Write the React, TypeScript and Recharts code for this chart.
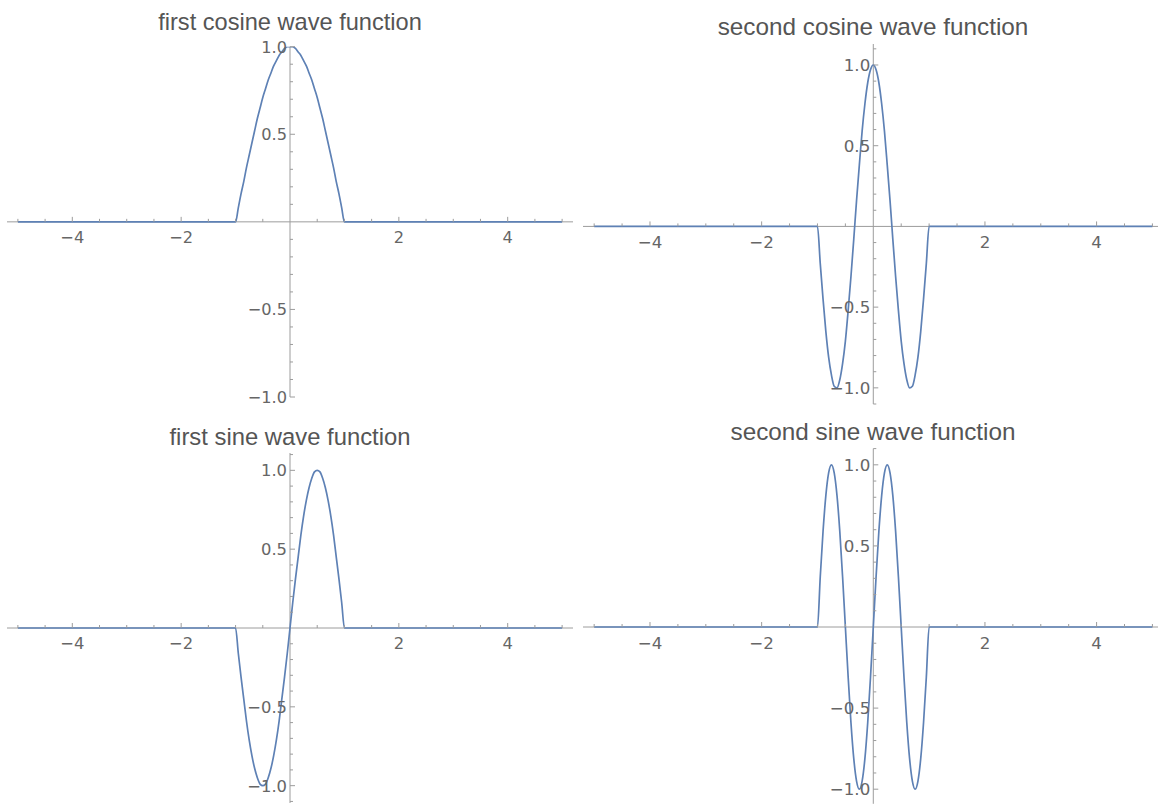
import React from 'react';
import { LineChart, Line, XAxis, YAxis, ReferenceLine, ReferenceDot } from 'recharts';

// sample positions (x) shared by the four plots
const xValues = [
  -5, -1, -0.95, -0.9, -0.85, -0.8, -0.75, -0.7, -0.65, -0.6, -0.55, -0.5, -0.45, -0.4, -0.35, -0.3, -0.25, -0.2, -0.15, -0.1, -0.05,
  0, 0.05, 0.1, 0.15, 0.2, 0.25, 0.3, 0.35, 0.4, 0.45, 0.5, 0.55, 0.6, 0.65, 0.7, 0.75, 0.8, 0.85, 0.9, 0.95, 1, 5,
];

const firstCosine = [
  0, 0, 0.08, 0.16, 0.23, 0.31, 0.38, 0.45, 0.52, 0.59, 0.65, 0.71, 0.76, 0.81, 0.85, 0.89, 0.92, 0.95, 0.97, 0.99, 1.0,
  1, 1.0, 0.99, 0.97, 0.95, 0.92, 0.89, 0.85, 0.81, 0.76, 0.71, 0.65, 0.59, 0.52, 0.45, 0.38, 0.31, 0.23, 0.16, 0.08, 0, 0,
];

const secondCosine = [
  0, 0, -0.23, -0.45, -0.65, -0.81, -0.92, -0.99, -1.0, -0.95, -0.85, -0.71, -0.52, -0.31, -0.08, 0.16, 0.38, 0.59, 0.76, 0.89, 0.97,
  1, 0.97, 0.89, 0.76, 0.59, 0.38, 0.16, -0.08, -0.31, -0.52, -0.71, -0.85, -0.95, -1.0, -0.99, -0.92, -0.81, -0.65, -0.45, -0.23, 0, 0,
];

const firstSine = [
  0, 0, -0.16, -0.31, -0.45, -0.59, -0.71, -0.81, -0.89, -0.95, -0.99, -1, -0.99, -0.95, -0.89, -0.81, -0.71, -0.59, -0.45, -0.31, -0.16,
  0, 0.16, 0.31, 0.45, 0.59, 0.71, 0.81, 0.89, 0.95, 0.99, 1, 0.99, 0.95, 0.89, 0.81, 0.71, 0.59, 0.45, 0.31, 0.16, 0, 0,
];

const secondSine = [
  0, 0, 0.31, 0.59, 0.81, 0.95, 1, 0.95, 0.81, 0.59, 0.31, 0, -0.31, -0.59, -0.81, -0.95, -1, -0.95, -0.81, -0.59, -0.31,
  0, 0.31, 0.59, 0.81, 0.95, 1, 0.95, 0.81, 0.59, 0.31, 0, -0.31, -0.59, -0.81, -0.95, -1, -0.95, -0.81, -0.59, -0.31, 0, 0,
];

const titles = [
  'first cosine wave function',
  'second cosine wave function',
  'first sine wave function',
  'second sine wave function',
];

const xMajorTicks = [-4, -2, 2, 4];
const xMajorLabels = ['−4', '−2', '2', '4'];
const xMinorTicks = [-5, -4.5, -3.5, -3, -2.5, -1.5, -1, -0.5, 0.5, 1, 1.5, 2.5, 3, 3.5, 4.5, 5];
const yMajorTicks = [-1, -0.5, 0.5, 1];
const yMajorLabels = ['−1.0', '−0.5', '0.5', '1.0'];
const yMinorTicks = [-1.1, -0.9, -0.8, -0.7, -0.6, -0.4, -0.3, -0.2, -0.1, 0.1, 0.2, 0.3, 0.4, 0.6, 0.7, 0.8, 0.9, 1.1];

const LINE_COLOR = '#5e81b5';
const AXIS_COLOR = '#9c9c9c';
const LABEL_COLOR = '#666666';
const TITLE_COLOR = '#555555';
const TICK_FONT = '"DejaVu Sans", sans-serif';
const TITLE_FONT = '"Liberation Sans", Arial, sans-serif';
const TICK_SIZE = 16.2;

const panels = [
  { series: firstCosine, left: 0, top: 0, width: 579, height: 410, margin: { top: 46.7, right: 6, bottom: 13, left: 7 }, xDomain: [-5.2, 5.2], yDomain: [-1, 1], titleX: 290, titleY: 30, scale: 1 },
  { series: secondCosine, left: 580, top: 0, width: 578, height: 410, margin: { top: 44, right: 0, bottom: 6, left: 3 }, xDomain: [-5.2, 5.1], yDomain: [-1.1, 1.13], titleX: 873, titleY: 35, scale: 1.03 },
  { series: firstSine, left: 0, top: 410, width: 579, height: 394, margin: { top: 43, right: 6, bottom: 1, left: 7 }, xDomain: [-5.2, 5.2], yDomain: [-1.11, 1.11], titleX: 290, titleY: 445, scale: 1.01 },
  { series: secondSine, left: 580, top: 410, width: 578, height: 394, margin: { top: 38.6, right: 0, bottom: 0.2, left: 3 }, xDomain: [-5.2, 5.1], yDomain: [-1.09, 1.1], titleX: 873, titleY: 440, scale: 1.03 },
];

const xTick = (len: number, label: string | null, scale: number) => (props: any) => {
  const { cx, cy } = props;
  return (
    <g>
      <line x1={cx} y1={cy} x2={cx} y2={cy - len} stroke={AXIS_COLOR} strokeWidth={1} />
      {label && (
        <text x={cx} y={cy + 21 * scale} textAnchor="middle" fontSize={TICK_SIZE * scale} fontFamily={TICK_FONT} fill={LABEL_COLOR}>
          {label}
        </text>
      )}
    </g>
  );
};

const yTick = (len: number, label: string | null, scale: number) => (props: any) => {
  const { cx, cy } = props;
  const fs = TICK_SIZE * scale;
  return (
    <g>
      <line x1={cx} y1={cy} x2={cx + len} y2={cy} stroke={AXIS_COLOR} strokeWidth={1} />
      {label && (
        <text x={cx - 3} y={cy + fs * 0.36} textAnchor="end" fontSize={fs} fontFamily={TICK_FONT} fill={LABEL_COLOR}>
          {label}
        </text>
      )}
    </g>
  );
};

const Panel = ({ p }: { p: (typeof panels)[number] }) => {
  const data = xValues.map((x, i) => ({ x, y: p.series[i] }));
  return (
    <div style={{ position: 'absolute', left: p.left, top: p.top }}>
      <LineChart width={p.width} height={p.height} data={data} margin={p.margin}>
        <XAxis type="number" dataKey="x" domain={p.xDomain} allowDataOverflow hide />
        <YAxis type="number" domain={p.yDomain} allowDataOverflow hide />
        <ReferenceLine y={0} stroke={AXIS_COLOR} strokeWidth={1} />
        <ReferenceLine x={0} stroke={AXIS_COLOR} strokeWidth={1} />
        {xMinorTicks.map((t) => (
          <ReferenceDot key={'xm' + t} x={t} y={0} r={0} shape={xTick(3, null, p.scale)} />
        ))}
        {xMajorTicks.map((t, i) => (
          <ReferenceDot key={'xM' + t} x={t} y={0} r={0} shape={xTick(5, xMajorLabels[i], p.scale)} />
        ))}
        {yMinorTicks.map((t) => (
          <ReferenceDot key={'ym' + t} x={0} y={t} r={0} shape={yTick(3, null, p.scale)} />
        ))}
        {yMajorTicks.map((t, i) => (
          <ReferenceDot key={'yM' + t} x={0} y={t} r={0} shape={yTick(5, yMajorLabels[i], p.scale)} />
        ))}
        <Line
          type="monotone"
          dataKey="y"
          stroke={LINE_COLOR}
          strokeWidth={1.7}
          dot={false}
          activeDot={false}
          isAnimationActive={false}
        />
      </LineChart>
    </div>
  );
};

export default function App() {
  return (
    <div style={{ position: 'absolute', left: 0, top: 0, width: 1158, height: 804, background: '#fff', overflow: 'hidden' }}>
      {panels.map((p, i) => (
        <Panel key={i} p={p} />
      ))}
      <svg width={1158} height={804} style={{ position: 'absolute', left: 0, top: 0, pointerEvents: 'none' }}>
        {panels.map((p, i) => (
          <text
            key={i}
            x={p.titleX}
            y={p.titleY}
            textAnchor="middle"
            fontSize={23.6 * p.scale}
            fontFamily={TITLE_FONT}
            fill={TITLE_COLOR}
          >
            {titles[i]}
          </text>
        ))}
      </svg>
    </div>
  );
}
